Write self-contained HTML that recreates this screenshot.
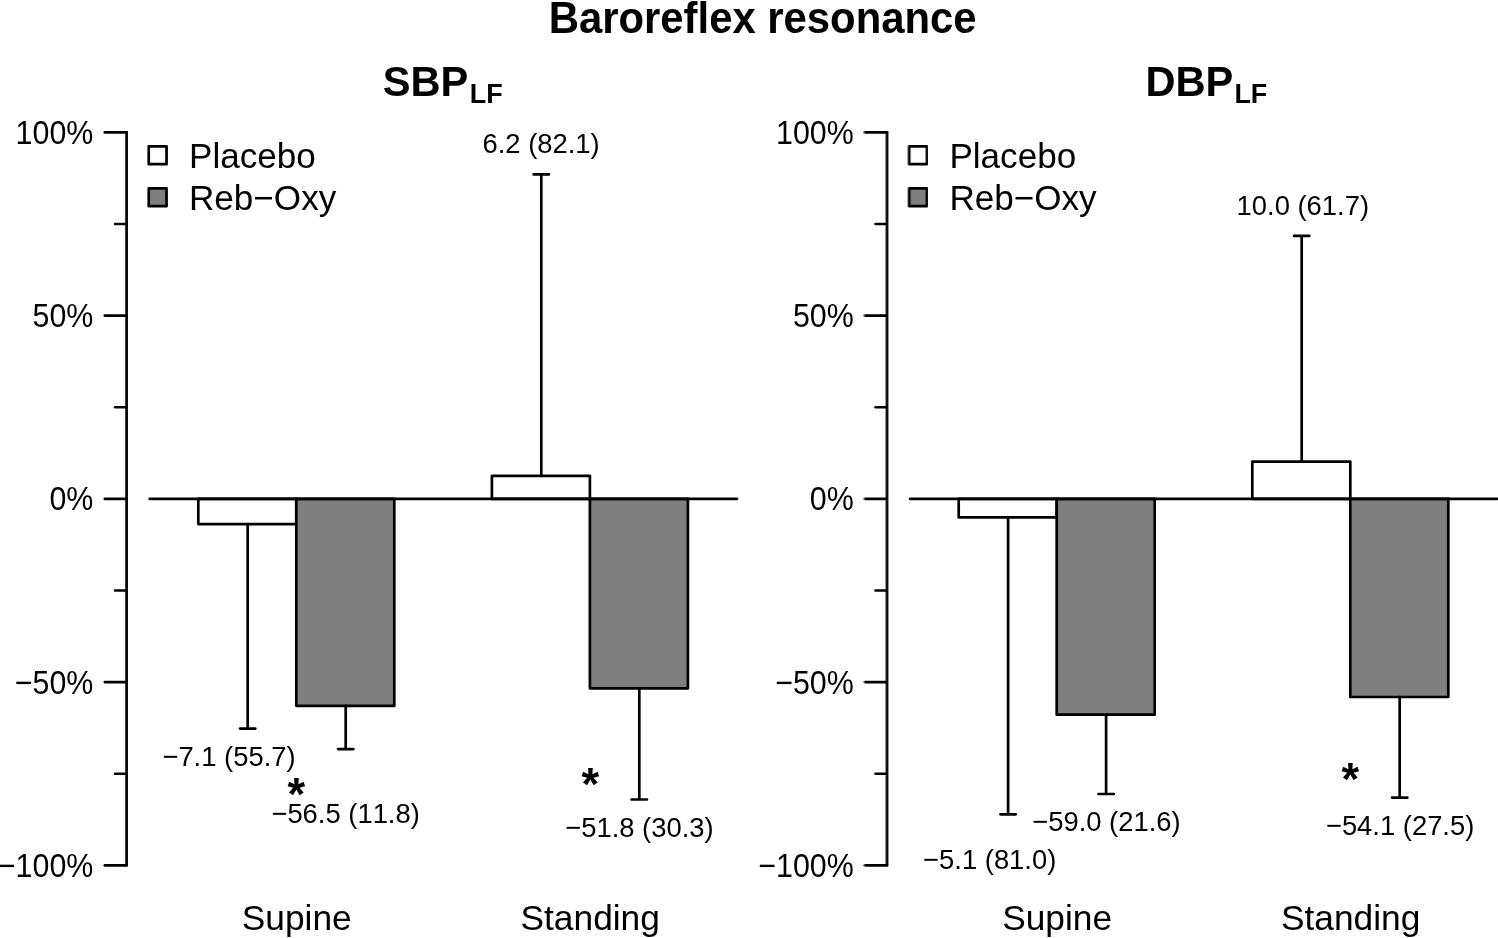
<!DOCTYPE html>
<html lang="en"><head><meta charset="utf-8"><title>Baroreflex resonance</title>
<style>
html,body{margin:0;padding:0;background:#fff;}
body{width:1498px;height:938px;overflow:hidden;}
svg{display:block;}
#fig{filter:blur(0.4px);}
text{font-family:"Liberation Sans", Arial, Helvetica, sans-serif;fill:#000;font-kerning:none;}
.b{font-weight:bold;}
.ln{stroke:#000;stroke-width:2.7;stroke-linecap:round;stroke-linejoin:round;}
path.ln{fill:none;}
</style></head><body>
<svg width="1498" height="938" viewBox="0 0 1498 938">
<rect width="1498" height="938" fill="#fff"/>
<g id="fig">
<text transform="translate(762.65,32.55) scale(1,1.052)" class="b" text-anchor="middle" font-size="41.85">Baroreflex resonance</text>
<g transform="translate(0,0)">
<text transform="translate(382.70,95.60) scale(1,1.04)" class="b" font-size="41.6">SBP</text>
<text transform="translate(469.70,103.20) scale(1,1.04)" class="b" font-size="26.9">LF</text>
<path class="ln" d="M126.6 132.35 V865.35"/>
<path class="ln" d="M104.85 132.35 H126.6"/>
<text transform="translate(93.30,143.85) scale(1,1.1)" text-anchor="end" font-size="30.4">100%</text>
<path class="ln" d="M104.85 315.60 H126.6"/>
<text transform="translate(93.30,327.10) scale(1,1.1)" text-anchor="end" font-size="30.4">50%</text>
<path class="ln" d="M104.85 498.85 H126.6"/>
<text transform="translate(93.30,510.35) scale(1,1.1)" text-anchor="end" font-size="30.4">0%</text>
<path class="ln" d="M104.85 682.10 H126.6"/>
<text transform="translate(93.30,693.60) scale(1,1.1)" text-anchor="end" font-size="30.4">−50%</text>
<path class="ln" d="M104.85 865.35 H126.6"/>
<text transform="translate(93.30,876.85) scale(1,1.1)" text-anchor="end" font-size="30.4">−100%</text>
<path class="ln" d="M115.15 223.98 H126.6"/>
<path class="ln" d="M115.15 407.23 H126.6"/>
<path class="ln" d="M115.15 590.48 H126.6"/>
<path class="ln" d="M115.15 773.73 H126.6"/>
<rect class="ln" x="148.75" y="146.4" width="17.8" height="17.8" fill="#fff"/>
<rect class="ln" x="148.75" y="188.4" width="17.8" height="17.8" fill="#7f7f7f"/>
<text transform="translate(189.00,168.35) scale(1,1.01)" font-size="35.1">Placebo</text>
<text transform="translate(189.00,210.15) scale(1,1.01)" font-size="35.1">Reb−Oxy</text>
<rect class="ln" x="198.3" y="498.85" width="98" height="25.25" fill="#fff"/>
<path class="ln" d="M247.70000000000002 524.10 V728.60 M240.05 728.60 H255.35000000000002"/>
<rect class="ln" x="296.3" y="498.85" width="98" height="206.95" fill="#7f7f7f"/>
<path class="ln" d="M345.7 705.80 V749.10 M338.05 749.10 H353.34999999999997"/>
<rect class="ln" x="491.9" y="475.80" width="98" height="23.05" fill="#fff"/>
<path class="ln" d="M541.3 475.80 V174.40 M533.65 174.40 H548.9499999999999"/>
<rect class="ln" x="589.9" y="498.85" width="98" height="189.45" fill="#7f7f7f"/>
<path class="ln" d="M639.3 688.30 V799.50 M631.65 799.50 H646.9499999999999"/>
<path class="ln" d="M149.65 498.85 H737.05"/>
<text transform="translate(229.00,766.30) scale(1,1.03)" text-anchor="middle" font-size="27.4">−7.1 (55.7)</text>
<text transform="translate(345.60,822.70) scale(1,1.03)" text-anchor="middle" font-size="27.4">−56.5 (11.8)</text>
<text transform="translate(541.10,152.70) scale(1,1.03)" text-anchor="middle" font-size="27.4">6.2 (82.1)</text>
<text transform="translate(639.40,836.70) scale(1,1.03)" text-anchor="middle" font-size="27.4">−51.8 (30.3)</text>
<text transform="translate(296.30,810.20) scale(1,1.0)" class="b" text-anchor="middle" font-size="45.3">*</text>
<text transform="translate(590.30,799.70) scale(1,1.0)" class="b" text-anchor="middle" font-size="45.3">*</text>
<text transform="translate(296.70,930.30) scale(1,1.008)" text-anchor="middle" font-size="35.3">Supine</text>
<text transform="translate(590.20,930.30) scale(1,1.008)" text-anchor="middle" font-size="35.3">Standing</text>
</g>
<g transform="translate(760.4,0)">
<text transform="translate(385.00,95.60) scale(1,1.04)" class="b" font-size="41.6">DBP</text>
<text transform="translate(474.00,103.20) scale(1,1.04)" class="b" font-size="26.9">LF</text>
<path class="ln" d="M126.6 132.35 V865.35"/>
<path class="ln" d="M104.85 132.35 H126.6"/>
<text transform="translate(93.30,143.85) scale(1,1.1)" text-anchor="end" font-size="30.4">100%</text>
<path class="ln" d="M104.85 315.60 H126.6"/>
<text transform="translate(93.30,327.10) scale(1,1.1)" text-anchor="end" font-size="30.4">50%</text>
<path class="ln" d="M104.85 498.85 H126.6"/>
<text transform="translate(93.30,510.35) scale(1,1.1)" text-anchor="end" font-size="30.4">0%</text>
<path class="ln" d="M104.85 682.10 H126.6"/>
<text transform="translate(93.30,693.60) scale(1,1.1)" text-anchor="end" font-size="30.4">−50%</text>
<path class="ln" d="M104.85 865.35 H126.6"/>
<text transform="translate(93.30,876.85) scale(1,1.1)" text-anchor="end" font-size="30.4">−100%</text>
<path class="ln" d="M115.15 223.98 H126.6"/>
<path class="ln" d="M115.15 407.23 H126.6"/>
<path class="ln" d="M115.15 590.48 H126.6"/>
<path class="ln" d="M115.15 773.73 H126.6"/>
<rect class="ln" x="148.75" y="146.4" width="17.8" height="17.8" fill="#fff"/>
<rect class="ln" x="148.75" y="188.4" width="17.8" height="17.8" fill="#7f7f7f"/>
<text transform="translate(189.00,168.35) scale(1,1.01)" font-size="35.1">Placebo</text>
<text transform="translate(189.00,210.15) scale(1,1.01)" font-size="35.1">Reb−Oxy</text>
<rect class="ln" x="198.3" y="498.85" width="98" height="18.60" fill="#fff"/>
<path class="ln" d="M247.70000000000002 517.45 V814.30 M240.05 814.30 H255.35000000000002"/>
<rect class="ln" x="296.3" y="498.85" width="98" height="215.85" fill="#7f7f7f"/>
<path class="ln" d="M345.7 714.70 V794.00 M338.05 794.00 H353.34999999999997"/>
<rect class="ln" x="491.9" y="461.70" width="98" height="37.15" fill="#fff"/>
<path class="ln" d="M541.3 461.70 V235.80 M533.65 235.80 H548.9499999999999"/>
<rect class="ln" x="589.9" y="498.85" width="98" height="198.15" fill="#7f7f7f"/>
<path class="ln" d="M639.3 697.00 V797.60 M631.65 797.60 H646.9499999999999"/>
<path class="ln" d="M149.65 498.85 H737.05"/>
<text transform="translate(229.30,869.00) scale(1,1.03)" text-anchor="middle" font-size="27.4">−5.1 (81.0)</text>
<text transform="translate(346.00,830.70) scale(1,1.03)" text-anchor="middle" font-size="27.4">−59.0 (21.6)</text>
<text transform="translate(542.40,214.70) scale(1,1.03)" text-anchor="middle" font-size="27.4">10.0 (61.7)</text>
<text transform="translate(639.70,834.70) scale(1,1.03)" text-anchor="middle" font-size="27.4">−54.1 (27.5)</text>
<text transform="translate(590.00,794.80) scale(1,1.0)" class="b" text-anchor="middle" font-size="45.3">*</text>
<text transform="translate(296.70,930.30) scale(1,1.008)" text-anchor="middle" font-size="35.3">Supine</text>
<text transform="translate(590.20,930.30) scale(1,1.008)" text-anchor="middle" font-size="35.3">Standing</text>
</g>
</g>
</svg>
</body></html>
